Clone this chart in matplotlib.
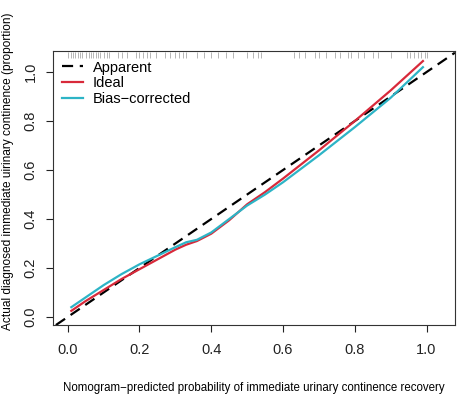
import matplotlib
matplotlib.use("Agg")
import matplotlib.pyplot as plt

plt.rcParams["font.family"] = ["Liberation Sans", "DejaVu Sans"]

# calibration curves
pred = [0.01, 0.05, 0.10, 0.15, 0.20, 0.25, 0.30, 0.33, 0.36, 0.40,
        0.45, 0.50, 0.55, 0.60, 0.70, 0.80, 0.90, 0.99]
ideal = [0.025, 0.065, 0.11, 0.155, 0.195, 0.235, 0.275, 0.295, 0.31, 0.34,
         0.395, 0.46, 0.51, 0.565, 0.68, 0.80, 0.925, 1.045]
bias_corrected = [0.04, 0.08, 0.13, 0.175, 0.215, 0.25, 0.285, 0.305, 0.315, 0.345,
                  0.40, 0.455, 0.50, 0.55, 0.66, 0.775, 0.895, 1.02]

# rug of predicted probabilities (top of panel)
rug = [0.00, 0.01, 0.015, 0.02, 0.03, 0.035, 0.04, 0.05, 0.06, 0.065, 0.07,
       0.08, 0.085, 0.09, 0.10, 0.11, 0.115, 0.14, 0.15, 0.165, 0.19, 0.20,
       0.21, 0.22, 0.23, 0.245, 0.27, 0.285, 0.30, 0.31, 0.32, 0.33, 0.36,
       0.38, 0.40, 0.42, 0.44, 0.46, 0.50, 0.515, 0.53, 0.54, 0.63, 0.645,
       0.66, 0.69, 0.70, 0.72, 0.745, 0.76, 0.78, 0.79, 0.81, 0.825, 0.85,
       0.865, 0.90, 0.945, 0.955, 0.965, 0.975, 0.985, 0.995, 1.00]

red = "#d8293a"
cyan = "#2db4c6"

fig = plt.figure(figsize=(4.59, 3.94), dpi=100)
ax = fig.add_axes([0.1155, 0.175, 0.8755, 0.6955])

ax.axline((0, 0), (1, 1), color="black", lw=1.6, ls=(0, (5, 3)), label="Apparent")
ax.plot(pred, ideal, color=red, lw=1.6, label="Ideal")
ax.plot(pred, bias_corrected, color=cyan, lw=1.6, label="Bias\u2212corrected")
ax.vlines(rug, 0.975, 0.995, transform=ax.get_xaxis_transform(),
          color="#aaaaaa", lw=0.6)

ax.set_xlim(-0.041, 1.079)
ax.set_ylim(-0.033, 1.086)
ticks = [0.0, 0.2, 0.4, 0.6, 0.8, 1.0]
ax.set_xticks(ticks)
ax.set_yticks(ticks)
ax.set_xticklabels(["%.1f" % t for t in ticks])
ax.set_yticklabels(["%.1f" % t for t in ticks], rotation=90, va="center")
ax.tick_params(direction="out", length=5, width=0.8, labelsize=10.5,
               colors="#222222")
ax.tick_params(axis="x", pad=8)
ax.tick_params(axis="y", pad=6)
for s in ax.spines.values():
    s.set_linewidth(0.8)
    s.set_color("#333333")

ax.set_xlabel("Nomogram\u2212predicted probability of immediate urinary continence recovery",
              fontsize=8.3, labelpad=18)
ax.set_ylabel("Actual diagnosed immediate uirinary continence (proportion)",
              fontsize=8.6)
ax.yaxis.set_label_coords(-0.098, 0.562)

ax.legend(loc="upper left", frameon=False, fontsize=10.5, handlelength=1.4,
          handletextpad=0.7, labelspacing=0.12, bbox_to_anchor=(0.0, 1.0),
          borderaxespad=0.25)

fig.savefig("out.png", dpi=100)
